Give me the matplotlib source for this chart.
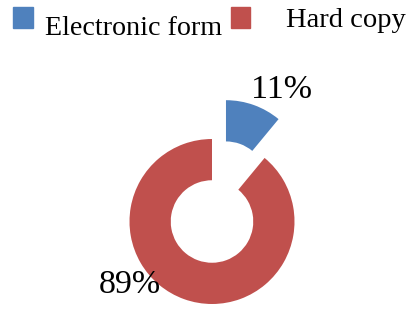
import matplotlib
matplotlib.use("Agg")
import matplotlib.pyplot as plt
from matplotlib.patches import Rectangle

# data
categories = ["Electronic form", "Hard copy"]
shares = [11, 89]
pct_labels = ["11%", "89%"]
colors = ["#4F81BD", "#C0504D"]

plt.rcParams["font.family"] = ["Liberation Serif", "DejaVu Serif"]

fig = plt.figure(figsize=(4.11, 3.09), dpi=100)
ax = fig.add_axes([0, 0, 1, 1])

ax.pie(shares, colors=colors, startangle=90, counterclock=False,
       explode=[0.5, 0], radius=1.0,
       wedgeprops=dict(width=0.5, linewidth=0))

# place the centre like the original (pixel geometry: radius 82.5 px)
ax.set_xlim(-212 / 82.5, (411 - 212) / 82.5)
ax.set_ylim(-87.5 / 82.5, 221.5 / 82.5)
ax.set_aspect("equal")
ax.axis("off")

# percentage labels
label_pos = [(0.848, 1.497), (-0.994, -0.867)]
for txt, (x, y) in zip(pct_labels, label_pos):
    ax.text(x, y, txt, ha="center", va="baseline", fontsize=24.5, color="black")

# legend drawn by hand (squares + text)
W, H = 411, 309
fig.patches.append(Rectangle((13 / W, 1 - 28 / H), 20 / W, 21 / H,
                             transform=fig.transFigure, color=colors[0]))
fig.patches.append(Rectangle((231 / W, 1 - 28 / H), 19 / W, 21 / H,
                             transform=fig.transFigure, color=colors[1]))
fig.text(45 / W, 1 - 35 / H, categories[0], fontsize=20.2, va="baseline")
fig.text(286 / W, 1 - 27 / H, categories[1], fontsize=20.5, va="baseline")

fig.savefig("out.png", dpi=100)
